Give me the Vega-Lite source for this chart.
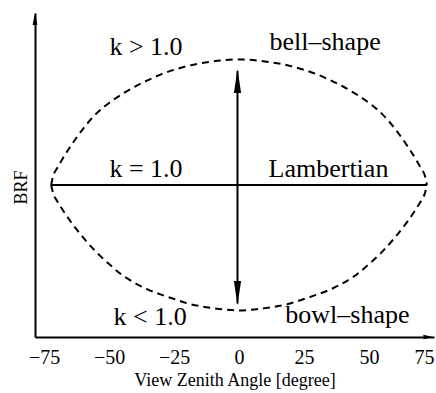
{
  "$schema": "https://vega.github.io/schema/vega-lite/v6.json",
  "width": 399,
  "height": 324,
  "autosize": {"type": "none"},
  "padding": {"left": 35, "top": 13, "right": 2, "bottom": 56},
  "background": "white",
  "config": {
    "view": {"stroke": null},
    "font": "Liberation Serif",
    "text": {"font": "Liberation Serif"}
  },
  "datasets": {
    "curves": [
      {"series": "bell", "x": -72.3, "y": 1.0},
      {"series": "bell", "x": -71.5, "y": 1.06},
      {"series": "bell", "x": -70, "y": 1.11},
      {"series": "bell", "x": -68, "y": 1.17},
      {"series": "bell", "x": -65, "y": 1.25},
      {"series": "bell", "x": -60, "y": 1.37},
      {"series": "bell", "x": -55, "y": 1.468},
      {"series": "bell", "x": -50, "y": 1.54},
      {"series": "bell", "x": -45, "y": 1.598},
      {"series": "bell", "x": -40, "y": 1.648},
      {"series": "bell", "x": -35, "y": 1.69},
      {"series": "bell", "x": -30, "y": 1.728},
      {"series": "bell", "x": -25, "y": 1.758},
      {"series": "bell", "x": -20, "y": 1.782},
      {"series": "bell", "x": -10, "y": 1.813},
      {"series": "bell", "x": 0, "y": 1.826},
      {"series": "bell", "x": 10, "y": 1.813},
      {"series": "bell", "x": 20, "y": 1.782},
      {"series": "bell", "x": 25, "y": 1.758},
      {"series": "bell", "x": 30, "y": 1.728},
      {"series": "bell", "x": 35, "y": 1.69},
      {"series": "bell", "x": 40, "y": 1.648},
      {"series": "bell", "x": 45, "y": 1.598},
      {"series": "bell", "x": 50, "y": 1.54},
      {"series": "bell", "x": 55, "y": 1.468},
      {"series": "bell", "x": 60, "y": 1.37},
      {"series": "bell", "x": 65, "y": 1.25},
      {"series": "bell", "x": 68, "y": 1.17},
      {"series": "bell", "x": 70, "y": 1.11},
      {"series": "bell", "x": 71.5, "y": 1.06},
      {"series": "bell", "x": 72.3, "y": 1.0},
      {"series": "bowl", "x": -72.3, "y": 1.0},
      {"series": "bowl", "x": -71.5, "y": 0.945},
      {"series": "bowl", "x": -70, "y": 0.895},
      {"series": "bowl", "x": -68, "y": 0.84},
      {"series": "bowl", "x": -65, "y": 0.765},
      {"series": "bowl", "x": -60, "y": 0.655},
      {"series": "bowl", "x": -55, "y": 0.56},
      {"series": "bowl", "x": -50, "y": 0.48},
      {"series": "bowl", "x": -45, "y": 0.408},
      {"series": "bowl", "x": -40, "y": 0.355},
      {"series": "bowl", "x": -35, "y": 0.312},
      {"series": "bowl", "x": -30, "y": 0.279},
      {"series": "bowl", "x": -25, "y": 0.25},
      {"series": "bowl", "x": -20, "y": 0.222},
      {"series": "bowl", "x": -10, "y": 0.19},
      {"series": "bowl", "x": 0, "y": 0.175},
      {"series": "bowl", "x": 10, "y": 0.19},
      {"series": "bowl", "x": 20, "y": 0.222},
      {"series": "bowl", "x": 25, "y": 0.25},
      {"series": "bowl", "x": 30, "y": 0.279},
      {"series": "bowl", "x": 35, "y": 0.312},
      {"series": "bowl", "x": 40, "y": 0.355},
      {"series": "bowl", "x": 45, "y": 0.408},
      {"series": "bowl", "x": 50, "y": 0.48},
      {"series": "bowl", "x": 55, "y": 0.56},
      {"series": "bowl", "x": 60, "y": 0.655},
      {"series": "bowl", "x": 65, "y": 0.765},
      {"series": "bowl", "x": 68, "y": 0.84},
      {"series": "bowl", "x": 70, "y": 0.895},
      {"series": "bowl", "x": 71.5, "y": 0.945},
      {"series": "bowl", "x": 72.3, "y": 1.0}
    ],
    "lambertian": [
      {"x": -72.3, "y": 1.0},
      {"x": 72.3, "y": 1.0}
    ],
    "span": [
      {"x": -0.6, "y": 0.22, "y2": 1.75}
    ],
    "heads": [
      {"kind": "up", "x": -0.6, "y": 1.684},
      {"kind": "down", "x": -0.6, "y": 0.289},
      {"kind": "yaxis", "x": -78.5, "y": 2.092},
      {"kind": "xaxis", "x": 72.8, "y": 0}
    ],
    "notes": [
      {"label": "k > 1.0", "x": -35.8, "y": 1.855},
      {"label": "bell–shape", "x": 33.1, "y": 1.888},
      {"label": "k = 1.0", "x": -35.8, "y": 1.053},
      {"label": "Lambertian", "x": 34.4, "y": 1.053},
      {"label": "k < 1.0", "x": -34.2, "y": 0.079},
      {"label": "bowl–shape", "x": 41.7, "y": 0.092}
    ]
  },
  "encoding": {
    "x": {
      "field": "x",
      "type": "quantitative",
      "scale": {"domain": [-78.5, 75], "nice": false, "zero": false},
      "axis": {
        "title": "View Zenith Angle  [degree]",
        "values": [-75, -50, -25, 0, 25, 50, 75],
        "grid": false,
        "ticks": false,
        "tickSize": 0,
        "domainColor": "black",
        "domainWidth": 2,
        "labelFont": "Liberation Serif",
        "labelFontSize": 20,
        "labelColor": "black",
        "labelPadding": 10,
        "labelOverlap": false,
        "labelFlush": true,
        "titleFont": "Liberation Serif",
        "titleFontSize": 18,
        "titleFontWeight": "normal",
        "titleColor": "black",
        "titleBaseline": "alphabetic",
        "titleY": 48
      }
    },
    "y": {
      "field": "y",
      "type": "quantitative",
      "scale": {"domain": [0, 2.1316], "nice": false, "zero": false},
      "axis": {
        "title": "BRF",
        "labels": false,
        "ticks": false,
        "grid": false,
        "domainColor": "black",
        "domainWidth": 2,
        "titleFont": "Liberation Serif",
        "titleFontSize": 18,
        "titleFontWeight": "normal",
        "titleColor": "black",
        "titleAngle": -90,
        "titleAlign": "center",
        "titleBaseline": "middle",
        "titleX": -14,
        "titleY": 174
      }
    }
  },
  "layer": [
    {
      "data": {"name": "curves"},
      "mark": {"type": "line", "color": "black", "strokeWidth": 2, "strokeDash": [7, 5], "interpolate": "monotone"},
      "encoding": {"detail": {"field": "series"}}
    },
    {
      "data": {"name": "lambertian"},
      "mark": {"type": "line", "color": "black", "strokeWidth": 2},
      "encoding": {}
    },
    {
      "data": {"name": "span"},
      "mark": {"type": "rule", "color": "black", "strokeWidth": 2},
      "encoding": {"y2": {"field": "y2"}}
    },
    {
      "data": {"name": "heads"},
      "transform": [{"filter": "datum.kind === 'up'"}],
      "mark": {"type": "point", "filled": true, "color": "black", "opacity": 1, "size": 576, "shape": "M0,-1L0.3,1L-0.3,1Z"}
    },
    {
      "data": {"name": "heads"},
      "transform": [{"filter": "datum.kind === 'down'"}],
      "mark": {"type": "point", "filled": true, "color": "black", "opacity": 1, "size": 576, "shape": "M0,1L0.3,-1L-0.3,-1Z"}
    },
    {
      "data": {"name": "heads"},
      "transform": [{"filter": "datum.kind === 'yaxis'"}],
      "mark": {"type": "point", "filled": true, "color": "black", "opacity": 1, "size": 144, "shape": "M0,-1L0.4,1L-0.4,1Z", "clip": false}
    },
    {
      "data": {"name": "heads"},
      "transform": [{"filter": "datum.kind === 'xaxis'"}],
      "mark": {"type": "point", "filled": true, "color": "black", "opacity": 1, "size": 100, "shape": "M1,0L-1,0.45L-1,-0.45Z", "clip": false}
    },
    {
      "data": {"name": "notes"},
      "mark": {"type": "text", "font": "Liberation Serif", "fontSize": 26, "color": "black", "align": "center", "baseline": "alphabetic"},
      "encoding": {"text": {"field": "label"}}
    }
  ]
}
